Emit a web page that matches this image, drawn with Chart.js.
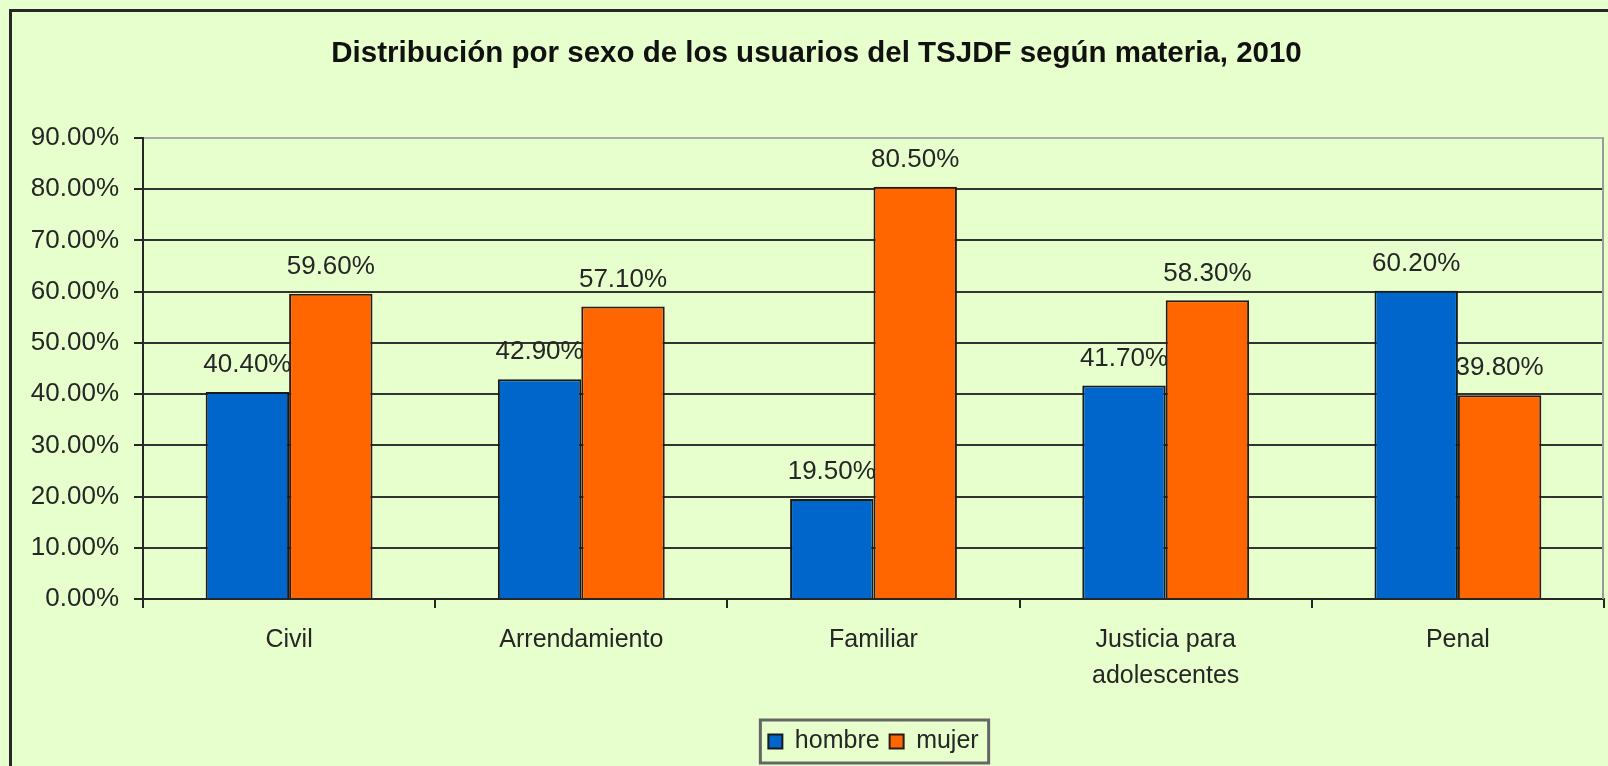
<!DOCTYPE html>
<html>
<head>
<meta charset="utf-8">
<script src="https://cdn.jsdelivr.net/npm/chart.js"></script>
<style>
  html, body { margin: 0; padding: 0; background: #E6FFCC; }
  #wrap { position: relative; width: 1608px; height: 766px; }
</style>
</head>
<body>
<div id="wrap"><canvas id="c" width="1608" height="766"></canvas></div>
<script>
const categories = ['Civil', 'Arrendamiento', 'Familiar', ['Justicia para', 'adolescentes'], 'Penal'];
const hombre = [40.4, 42.9, 19.5, 41.7, 60.2];
const mujer = [59.6, 57.1, 80.5, 58.3, 39.8];
const seriesNames = ['hombre', 'mujer'];
const titleText = 'Distribución por sexo de los usuarios del TSJDF según materia, 2010';
const yMax = 90;
const yStep = 10;

const FONT = "'Liberation Sans', Arial, sans-serif";
const INK = '#262626';

const framePlugin = {
  id: 'frame',
  beforeDraw(chart) {
    const ctx = chart.ctx;
    ctx.save();
    ctx.fillStyle = '#E6FFCC';
    ctx.fillRect(0, 0, chart.width, chart.height);
    ctx.fillStyle = '#262626';
    ctx.fillRect(9, 9, 3, chart.height);
    ctx.fillRect(9, 9, chart.width, 3);
    ctx.restore();
  },
  afterLayout(chart) {
    if (chart.titleBlock) { chart.titleBlock.left += 29; }
  },
  beforeDatasetsDraw(chart) {
    const a = chart.chartArea, ctx = chart.ctx;
    ctx.save();
    ctx.strokeStyle = '#999999';
    ctx.lineWidth = 2;
    ctx.beginPath();
    ctx.moveTo(a.right - 1, a.top);
    ctx.lineTo(a.right - 1, a.bottom);
    ctx.stroke();
    ctx.restore();
  },
  afterDatasetsDraw(chart) {
    const ctx = chart.ctx;
    ctx.save();
    ctx.font = '26px ' + FONT;
    ctx.fillStyle = INK;
    ctx.textAlign = 'center';
    ctx.textBaseline = 'middle';
    chart.data.datasets.forEach((ds, i) => {
      chart.getDatasetMeta(i).data.forEach((el, j) => {
        ctx.fillText(ds.data[j].toFixed(2) + '%', el.x, el.y - 27);
      });
    });
    ctx.restore();
  },
  afterDraw(chart) {
    const lg = chart.legend;
    if (!lg || !lg.legendHitBoxes || !lg.legendHitBoxes.length) return;
    const hb = lg.legendHitBoxes;
    let l = Infinity, r = -Infinity, t = Infinity, b = -Infinity;
    hb.forEach(h => {
      l = Math.min(l, h.left); r = Math.max(r, h.left + h.width);
      t = Math.min(t, h.top); b = Math.max(b, h.top + h.height);
    });
    const ctx = chart.ctx;
    ctx.save();
    ctx.strokeStyle = '#666666';
    ctx.lineWidth = 3;
    ctx.strokeRect(l - 8, t - 9, (r - l) + 18, (b - t) + 18);
    ctx.restore();
  }
};

new Chart(document.getElementById('c'), {
  type: 'bar',
  data: {
    labels: categories,
    datasets: [
      { label: seriesNames[0], data: hombre, backgroundColor: '#0066CC', borderColor: '#1a1a1a', borderWidth: 2 },
      { label: seriesNames[1], data: mujer, backgroundColor: '#FF6600', borderColor: '#2a1a10', borderWidth: 2 }
    ]
  },
  options: {
    responsive: false,
    animation: false,
    events: [],
    layout: { padding: { left: 0, right: 4, top: 0, bottom: 2 } },
    datasets: { bar: { categoryPercentage: 0.571, barPercentage: 1.0 } },
    plugins: {
      title: {
        display: true,
        text: titleText,
        color: '#111111',
        font: { family: FONT, size: 29.5, weight: 'bold', lineHeight: 1.2 },
        padding: { top: 36.5, bottom: 66.1 }
      },
      legend: {
        display: true,
        position: 'bottom',
        fullSize: false,
        labels: {
          color: INK,
          font: { family: FONT, size: 25 },
          boxWidth: 14,
          boxHeight: 14,
          padding: 10
        }
      },
      tooltip: { enabled: false }
    },
    scales: {
      x: {
        afterFit(scale) { scale.height = 120; },
        grid: {
          display: true,
          drawOnChartArea: false,
          offset: true,
          tickLength: 9,
          color: '#262626',
          lineWidth: 2
        },
        border: { display: true, color: '#262626', width: 2 },
        ticks: {
          color: INK,
          padding: 14,
          maxRotation: 0,
          autoSkip: false,
          font: { family: FONT, size: 25, lineHeight: 1.44 }
        }
      },
      y: {
        min: 0,
        max: yMax,
        afterFit(scale) { scale.width = 143; },
        grid: {
          color: (c) => (c.tick && c.tick.value === yMax) ? '#AAAAAA' : '#333333',
          tickColor: '#262626',
          lineWidth: 2,
          tickLength: 9
        },
        border: { display: true, color: '#262626', width: 2 },
        ticks: {
          stepSize: yStep,
          color: INK,
          padding: 15,
          font: { family: FONT, size: 26 },
          callback: (v) => Number(v).toFixed(2) + '%'
        }
      }
    }
  },
  plugins: [framePlugin]
});
</script>
</body>
</html>
